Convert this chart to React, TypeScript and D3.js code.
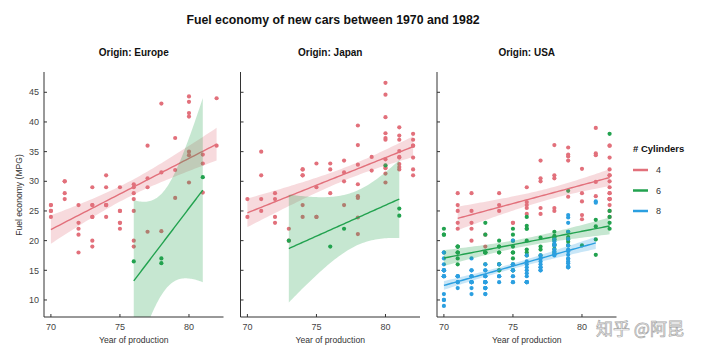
import React from "react";
import * as d3 from "d3";

const title = "Fuel economy of new cars between 1970 and 1982";
const origins = ["Europe", "Japan", "USA"];
const cylinders = ["4", "6", "8"];
const cylColors = ["#e2707b", "#22a24f", "#2b9fe0"];
const xTicks = [70, 75, 80];
const yTicks = [10, 15, 20, 25, 30, 35, 40, 45];
const yLabel = "Fuel economy (MPG)";
const xLabel = "Year of production";
const legendTitle = "# Cylinders";
const watermark = "知乎 @阿昆";

// rows: [model year, mpg, mpg, ...]
const europe4 = [
  [70, 26, 26, 25, 25, 24],
  [71, 30, 30, 28, 27],
  [72, 26, 23, 22, 21, 18],
  [73, 29, 26, 26, 24, 24, 20, 19],
  [74, 31, 29, 26, 26, 26, 24],
  [75, 29, 25, 25, 23, 23, 22],
  [76, 29.5, 29, 28, 27, 25, 20, 19],
  [77, 36, 30.5, 29, 21.5],
  [78, 43.1, 31.5, 21.6],
  [79, 37.3, 31.9, 27.2],
  [80, 44.3, 43.4, 41.5, 40.9, 35, 34.4, 29.8],
  [81, 34.5, 33, 28.1],
  [82, 44, 36],
];
const europe6 = [
  [76, 16.5],
  [78, 17, 16.2],
  [81, 30.7],
];
const japan4 = [
  [70, 27, 24],
  [71, 35, 31, 27, 25],
  [72, 28, 27, 24, 23],
  [73, 22, 20],
  [74, 32, 32, 31, 31, 26, 24],
  [75, 33, 29, 24, 24],
  [76, 33, 32, 28],
  [77, 33.5, 31.5, 30, 26],
  [78, 39.4, 36.1, 32.8, 29.5, 27.5, 27.2, 23.9, 21.1],
  [79, 34.1, 31.8],
  [80, 46.6, 44.6, 40.8, 38.1, 37.3, 37, 33.7, 32.4, 32.2, 31.3, 29.8],
  [81, 39.1, 37.7, 37, 35.1, 34.1, 34, 32.9, 32.4, 32],
  [82, 38, 37, 36, 36, 34, 32, 31],
];
const japan6 = [
  [73, 20],
  [76, 19],
  [77, 22],
  [80, 32.7],
  [81, 25.4, 24.2],
];
const usa4 = [
  [71, 28, 26, 25, 23, 22],
  [72, 28, 25, 23, 22, 20],
  [73, 21, 19],
  [74, 28, 26, 25],
  [75, 23, 23],
  [76, 29, 26.5, 26, 25.5, 24.5],
  [77, 33.5, 30.5, 30, 25.5, 24.5],
  [78, 36.1, 31, 30.5, 25.5, 25],
  [79, 35.7, 34.5, 34.2, 33.5, 27.4],
  [80, 32.1, 28, 26.6, 24.3, 23.6],
  [81, 39, 34.7, 34.4, 29.9, 27.5],
  [82, 36, 36, 34, 32, 31, 31, 30, 29, 28, 28, 27, 27, 27, 27, 26, 25, 24],
];
const usa6 = [
  [70, 22, 21, 21, 18],
  [71, 19, 19, 19, 18, 18, 18, 17, 16],
  [73, 23, 21, 18, 18, 18, 18, 16],
  [74, 20, 19, 19, 18, 18, 16, 16, 15, 15],
  [75, 22, 21, 20, 19, 18, 18, 18, 17, 16, 15, 15],
  [76, 24, 22.5, 22, 22, 20, 18.5, 18, 17.5],
  [77, 20.5, 19, 18.5, 17.5],
  [78, 21.5, 20.8, 20.6, 20.5, 20.2, 19.4, 19.2, 18.6, 18.1, 17.7],
  [79, 28.4, 21.5, 20.6, 20.2, 19.8, 19.2],
  [80, 19.2],
  [81, 23.5, 22.4, 20.2, 17.6],
  [82, 38, 25, 24, 23, 22],
];
const usa8 = [
  [70, 18, 18, 17, 16, 15, 15, 15, 15, 15, 14, 14, 14, 14, 14, 11, 10, 10, 9],
  [71, 14, 14, 14, 14, 13, 13, 12],
  [72, 17, 15, 15, 14, 14, 14, 13, 13, 13, 13, 13, 12, 11],
  [73, 16, 15, 15, 14, 14, 14, 13, 13, 13, 13, 13, 13, 12, 12, 12, 12, 11, 11],
  [74, 16, 14, 14, 14, 13],
  [75, 20, 16, 16, 15, 15, 14, 14, 13, 13],
  [76, 17.5, 16.5, 16, 15.5, 15, 14.5, 14, 13, 13, 13, 13],
  [77, 17.5, 17, 16.5, 16, 15.5, 15.5, 15, 15],
  [78, 20.2, 19.9, 19.4, 19.2, 18.5, 18.1, 17.7, 17.5],
  [79, 24.3, 23.9, 23, 21.5, 20.3, 19.2, 18.5, 18.2, 17.6, 17, 16.9, 16.5, 16.2, 15.7, 15.5, 15.5],
  [81, 26.6, 26.4],
];

const panelData = [
  [europe4, europe6, []],
  [japan4, japan6, []],
  [usa4, usa6, usa8],
];

const T975 = [NaN, 12.706, 4.303, 3.182, 2.776, 2.571, 2.447, 2.365, 2.306, 2.262, 2.228,
  2.201, 2.179, 2.16, 2.145, 2.131, 2.12, 2.11, 2.101, 2.093, 2.086,
  2.08, 2.074, 2.069, 2.064, 2.06, 2.056, 2.052, 2.048, 2.045, 2.042];
function tq(df: number) {
  return df <= 30 ? T975[df] : 1.96 + 2.4 / df;
}

type Pt = { x: number; y: number };
function flatten(rows: number[][]): Pt[] {
  const out: Pt[] = [];
  rows.forEach((r) => r.slice(1).forEach((v) => out.push({ x: r[0], y: v })));
  return out;
}

function fit(pts: Pt[]) {
  const n = pts.length;
  const mx = d3.mean(pts, (p) => p.x) as number;
  const my = d3.mean(pts, (p) => p.y) as number;
  const sxx = d3.sum(pts, (p) => (p.x - mx) ** 2);
  const sxy = d3.sum(pts, (p) => (p.x - mx) * (p.y - my));
  const b = sxy / sxx;
  const a = my - b * mx;
  const sse = d3.sum(pts, (p) => (p.y - a - b * p.x) ** 2);
  const s = Math.sqrt(sse / (n - 2));
  const t = tq(n - 2);
  const [x0, x1] = d3.extent(pts, (p) => p.x) as [number, number];
  return d3.range(0, 61).map((i) => {
    const x = x0 + ((x1 - x0) * i) / 60;
    const y = a + b * x;
    const h = t * s * Math.sqrt(1 / n + (x - mx) ** 2 / sxx);
    return { x, y, lo: y - h, hi: y + h };
  });
}

const FONT = "'Liberation Sans', Arial, Helvetica, sans-serif";
const panelLeft = [44, 240.5, 437];
const panelW = 179.5;
const top = 72;
const bottom = 317;

export default function App() {
  const y = d3.scaleLinear().domain([7.13, 48.42]).range([bottom, top]);
  return (
    <svg width={720} height={360} style={{ position: "absolute", left: 0, top: 0, background: "#fff" }} fontFamily={FONT}>
      <rect width={720} height={360} fill="#fff" />
      <text x={333} y={24} textAnchor="middle" fontSize={12.3} fontWeight="bold" fill="#111">{title}</text>
      <text transform={`translate(22,195) rotate(-90)`} textAnchor="middle" fontSize={8.6} fill="#333">{yLabel}</text>
      <defs>
        {panelLeft.map((l, i) => (
          <clipPath id={`clip${i}`} key={i}>
            <rect x={l} y={top} width={panelW} height={bottom - top} />
          </clipPath>
        ))}
      </defs>
      {panelLeft.map((left, pi) => {
        const x = d3.scaleLinear().domain([69.5, 82.5]).range([left, left + panelW]);
        const groups = panelData[pi];
        const area = d3.area<any>().x((d) => x(d.x)).y0((d) => y(d.lo)).y1((d) => y(d.hi));
        const line = d3.line<any>().x((d) => x(d.x)).y((d) => y(d.y));
        return (
          <g key={pi}>
            <text x={left + panelW / 2} y={56} textAnchor="middle" fontSize={10} fontWeight="bold" fill="#111">
              {"Origin: " + origins[pi]}
            </text>
            <g clipPath={`url(#clip${pi})`}>
              {groups.map((rows, gi) =>
                flatten(rows).map((p, k) => (
                  <circle key={`${gi}-${k}`} cx={x(p.x)} cy={y(p.y)} r={2.1} fill={cylColors[gi]} />
                ))
              )}
              {groups.map((rows, gi) => {
                if (!rows.length) return null;
                const f = fit(flatten(rows));
                return (
                  <g key={gi}>
                    <path d={area(f) as string} fill={cylColors[gi]} fillOpacity={0.26} />
                    <path d={line(f) as string} fill="none" stroke={cylColors[gi]} strokeWidth={1.4} />
                  </g>
                );
              })}
            </g>
            <line x1={left} x2={left} y1={top} y2={bottom} stroke="#333" strokeWidth={1} />
            <line x1={left} x2={left + panelW} y1={bottom} y2={bottom} stroke="#333" strokeWidth={1} />
            {yTicks.map((t) => (
              <g key={t}>
                <line x1={left} x2={left + 3} y1={y(t)} y2={y(t)} stroke="#333" />
                {pi === 0 && (
                  <text x={left - 5} y={y(t) + 3.2} textAnchor="end" fontSize={9} fill="#444">{t}</text>
                )}
              </g>
            ))}
            {xTicks.map((t) => (
              <g key={t}>
                <line x1={x(t)} x2={x(t)} y1={bottom} y2={bottom - 3} stroke="#333" />
                <text x={x(t)} y={330} textAnchor="middle" fontSize={9} fill="#444">{t}</text>
              </g>
            ))}
            <text x={left + panelW / 2} y={343} textAnchor="middle" fontSize={8.6} fill="#333">{xLabel}</text>
          </g>
        );
      })}
      <text x={633} y={152} fontSize={9.5} fontWeight="bold" fill="#111">{legendTitle}</text>
      {cylinders.map((c, i) => (
        <g key={c}>
          <line x1={633} x2={648} y1={170 + i * 20.5} y2={170 + i * 20.5} stroke={cylColors[i]} strokeWidth={2.5} />
          <text x={656} y={173.2 + i * 20.5} fontSize={9} fill="#333">{c}</text>
        </g>
      ))}
      <text x={596} y={335} fontSize={17} fontFamily="'Noto Sans CJK SC', sans-serif" fill="#fff" fillOpacity={0.7} stroke="#a8a8a8" strokeWidth={0.7}>
        {watermark}
      </text>
    </svg>
  );
}
